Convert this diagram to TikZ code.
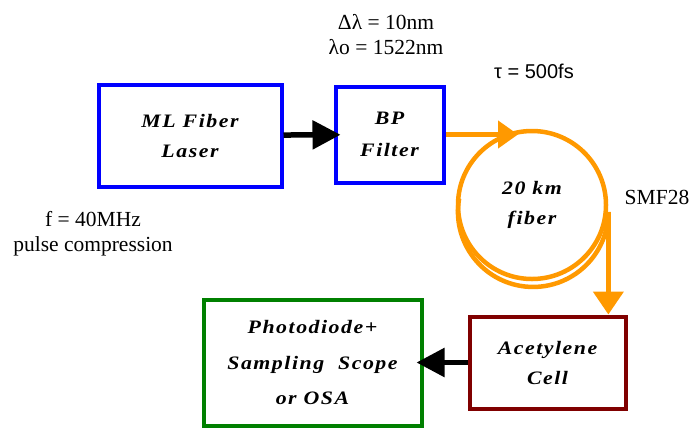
\documentclass[tikz,border=0pt]{standalone}
\usepackage{fontspec}
\setmainfont{Liberation Serif}
\newfontfamily\boxfont{Liberation Serif}[FakeStretch=1.15,LetterSpace=8]
\newfontfamily\tausf{Liberation Sans}
\usetikzlibrary{arrows.meta,calc}
\definecolor{cLaser}{RGB}{0,0,255}
\definecolor{cDet}{RGB}{0,128,0}
\definecolor{cCell}{RGB}{128,0,0}
\definecolor{cFib}{RGB}{255,153,0}

\begin{document}
\begin{tikzpicture}[x=1pt,y=-1pt,
  box/.style={draw,line width=4pt,inner sep=0pt,align=center,font=\boxfont\bfseries\itshape\fontsize{19}{30}\selectfont},
  note/.style={align=center,inner sep=0pt,font=\fontsize{21.5}{25}\selectfont},
  blk/.style={line width=5.5pt,shorten >=-7pt,-{Triangle[length=28pt,width=28pt]}},
  fib/.style={cFib,line width=4.5pt}]
  \useasboundingbox (0,0) rectangle (695,429);
  \node[box,draw=cLaser,minimum width=183pt,minimum height=102pt] (laser) at (190,135.5) {ML Fiber\\Laser};
  \node[box,draw=cLaser,minimum width=108pt,minimum height=96pt] (filter) at (389.5,134.5) {BP\\[2pt]Filter};
  \node[box,draw=cFib,line width=4.5pt,circle,minimum size=148pt] (coil) at (532,205) {20 km\\fiber};
  \node[box,draw=cCell,minimum width=156pt,minimum height=92pt] (cell) at (547.5,362.5) {Acetylene\\Cell};
  \node[box,draw=cDet,minimum width=218pt,minimum height=126pt,font=\boxfont\bfseries\itshape\fontsize{19}{35.5}\selectfont] (det) at (312.5,362.5) {Photodiode+\\Sampling\ \ Scope\\or OSA};
  % labels
  \node[note] (dlam) at (386,35) {Δλ = 10nm\\λo = 1522nm};
  \node[note,font=\tausf\fontsize{20}{22}\selectfont] (tau) at (534,71) {τ = 500fs};
  \node[note] (smf) at (657,197) {SMF28};
  \node[note] (rep) at (93,234) {f = 40MHz\\pulse compression};
  % second turn of the coil
  \draw[fib] ($(coil.center)+(-72.9,-6.3)$) arc[start angle=190,end angle=0,radius=75.2] coordinate (tail);
  % connectors
  \draw[blk] (laser) -- (filter);
  \draw[blk] (cell) -- (det);
  \draw[fib,-{Triangle[length=20pt,width=27pt]}] (filter.east) -- ([xshift=-14pt]filter.east -| coil.north);
  \draw[fib,-{Triangle[length=23pt,width=30pt]}] (tail) -- (tail |- cell.north);
\end{tikzpicture}
\end{document}
